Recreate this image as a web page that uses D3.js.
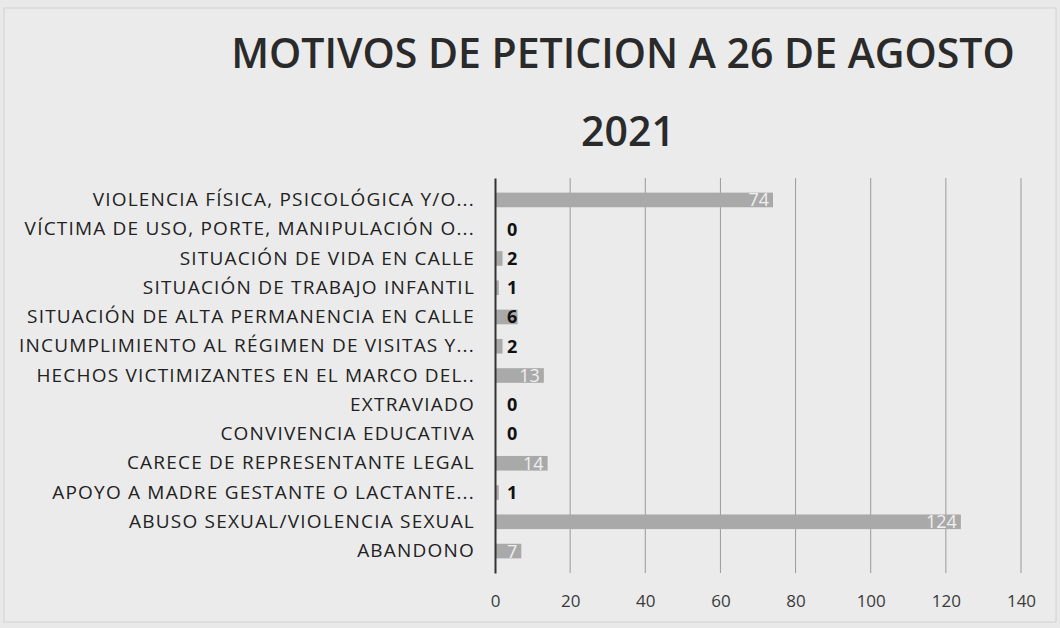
<!DOCTYPE html>
<html lang="es">
<head>
  <meta charset="UTF-8">
  <title>Motivos de petición</title>
  <script src="https://d3js.org/d3.v7.min.js"></script>
  <style>
    body { margin: 0; background: #e9e9e9; }
    svg { display: block; font-family: "Open Sans", Lato, sans-serif; }
  </style>
</head>
<body>
  <div id="chart"></div>

  <script>
    // datos
    const categories = [
      "VIOLENCIA FÍSICA, PSICOLÓGICA Y/O...",
      "VÍCTIMA DE USO, PORTE, MANIPULACIÓN O...",
      "SITUACIÓN DE VIDA EN CALLE",
      "SITUACIÓN DE TRABAJO INFANTIL",
      "SITUACIÓN DE ALTA PERMANENCIA EN CALLE",
      "INCUMPLIMIENTO AL RÉGIMEN DE VISITAS Y...",
      "HECHOS VICTIMIZANTES EN EL MARCO DEL..",
      "EXTRAVIADO",
      "CONVIVENCIA EDUCATIVA",
      "CARECE DE REPRESENTANTE LEGAL",
      "APOYO A MADRE GESTANTE O LACTANTE...",
      "ABUSO SEXUAL/VIOLENCIA SEXUAL",
      "ABANDONO"
    ];
    const values = [74, 0, 2, 1, 6, 2, 13, 0, 0, 14, 1, 124, 7];
    const xTicks = [0, 20, 40, 60, 80, 100, 120, 140];

    const width = 1060, height = 628;
    const plotLeft = 495, plotRight = 1021, plotTop = 178, plotBottom = 573;

    const svg = d3.select("#chart").append("svg")
      .attr("width", width)
      .attr("height", height);

    svg.append("rect")
      .attr("x", 4).attr("y", 8)
      .attr("width", width - 8).attr("height", height - 14)
      .attr("fill", "#ebebeb")
      .attr("stroke", "#d2d2d2");

    // título
    svg.append("text")
      .attr("x", 623).attr("y", 68)
      .attr("text-anchor", "middle")
      .attr("font-size", 41).attr("font-weight", 600)
      .attr("fill", "#2a2a2a")
      .text("MOTIVOS DE PETICION A 26 DE AGOSTO");
    svg.append("text")
      .attr("x", 628).attr("y", 146)
      .attr("text-anchor", "middle")
      .attr("font-size", 41).attr("font-weight", 600)
      .attr("fill", "#2a2a2a")
      .text("2021");

    const x = d3.scaleLinear().domain([0, 140]).range([plotLeft, plotRight]);
    const y = d3.scaleBand().domain(categories).range([plotTop, plotBottom]).padding(0.5);

    // rejilla
    svg.append("g")
      .selectAll("line")
      .data(xTicks.slice(1))
      .join("line")
      .attr("x1", d => x(d)).attr("x2", d => x(d))
      .attr("y1", plotTop).attr("y2", plotBottom)
      .attr("stroke", "#9a9a9a").attr("stroke-width", 1);

    // eje x
    const xAxis = svg.append("g")
      .attr("transform", `translate(0,${plotBottom})`)
      .call(d3.axisBottom(x).tickValues(xTicks).tickSize(0).tickPadding(22));
    xAxis.select(".domain").remove();
    xAxis.selectAll("text")
      .attr("font-size", 17).attr("fill", "#3a3a3a")
      .attr("font-family", "Open Sans, sans-serif");

    // barras
    svg.append("g")
      .selectAll("rect")
      .data(values)
      .join("rect")
      .attr("x", x(0))
      .attr("y", (d, i) => y(categories[i]))
      .attr("width", d => x(d) - x(0))
      .attr("height", y.bandwidth())
      .attr("fill", "#a9a9a9");

    // eje y
    const yAxis = svg.append("g")
      .attr("transform", `translate(${plotLeft},0)`)
      .call(d3.axisLeft(y).tickSize(0).tickPadding(20));
    yAxis.select(".domain")
      .attr("stroke", "#333").attr("stroke-width", 2);
    yAxis.selectAll("text")
      .attr("font-size", 19).attr("fill", "#222")
      .attr("letter-spacing", "1.2px")
      .attr("font-family", "Open Sans, sans-serif");

    // etiquetas de valores
    svg.append("g")
      .selectAll("text")
      .data(values)
      .join("text")
      .attr("x", d => d >= 7 ? x(d) - 4 : x(0) + 12)
      .attr("y", (d, i) => y(categories[i]) + y.bandwidth() / 2)
      .attr("dy", "0.36em")
      .attr("text-anchor", d => d >= 7 ? "end" : "start")
      .attr("font-size", 18)
      .attr("font-weight", d => d >= 7 ? "normal" : "bold")
      .attr("fill", d => d >= 7 ? "#f0f0f0" : "#111")
      .text(d => d);
  </script>
</body>
</html>
